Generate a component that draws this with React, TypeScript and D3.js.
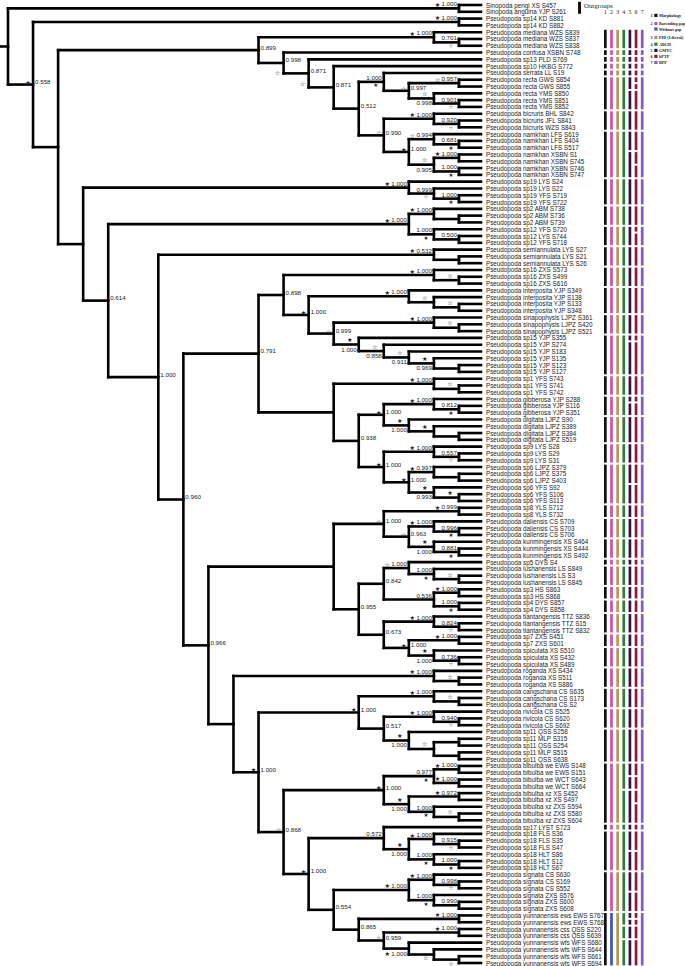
import React from 'react';
import * as d3 from 'd3';

const tipNames: string[] = [
'Sinopoda pengi XS S457','Sinopoda anguina YJP S261',
'Pseudopoda sp14 KD S881','Pseudopoda sp14 KD S882',
'Pseudopoda mediana WZS S839','Pseudopoda mediana WZS S837','Pseudopoda mediana WZS S838',
'Pseudopoda confusa XSBN S748','Pseudopoda sp13 PLD S769','Pseudopoda sp10 HKBG S772','Pseudopoda serrata LL S19',
'Pseudopoda recta GWS S854','Pseudopoda recta GWS S855','Pseudopoda recta YMS S850','Pseudopoda recta YMS S851','Pseudopoda recta YMS S852',
'Pseudopoda bicruris BHL S842','Pseudopoda bicruris JFL S841','Pseudopoda bicruris WZS S843',
'Pseudopoda namkhan LFS S619','Pseudopoda namkhan LFS S404','Pseudopoda namkhan LFS S517','Pseudopoda namkhan XSBN S1','Pseudopoda namkhan XSBN S745','Pseudopoda namkhan XSBN S746','Pseudopoda namkhan XSBN S747',
'Pseudopoda sp19 LYS S24','Pseudopoda sp19 LYS S22','Pseudopoda sp19 YFS S719','Pseudopoda sp19 YFS S722',
'Pseudopoda sp2 ABM S738','Pseudopoda sp2 ABM S736','Pseudopoda sp2 ABM S739',
'Pseudopoda sp12 YFS S720','Pseudopoda sp12 LYS S744','Pseudopoda sp12 YFS S718',
'Pseudopoda semiannulata LYS S27','Pseudopoda semiannulata LYS S21','Pseudopoda semiannulata LYS S26',
'Pseudopoda sp16 ZXS S573','Pseudopoda sp16 ZXS S499','Pseudopoda sp16 ZXS S616',
'Pseudopoda interposita YJP S349','Pseudopoda interposita YJP S138','Pseudopoda interposita YJP S133','Pseudopoda interposita YJP S348',
'Pseudopoda sinapophysis LJPZ S361','Pseudopoda sinapophysis LJPZ S420','Pseudopoda sinapophysis LJPZ S521',
'Pseudopoda sp15 YJP S355','Pseudopoda sp15 YJP S274','Pseudopoda sp15 YJP S183','Pseudopoda sp15 YJP S135','Pseudopoda sp15 YJP S123','Pseudopoda sp15 YJP S127',
'Pseudopoda sp1 YFS S743','Pseudopoda sp1 YFS S741','Pseudopoda sp1 YFS S742',
'Pseudopoda gibberosa YJP S288','Pseudopoda gibberosa YJP S116','Pseudopoda gibberosa YJP S351',
'Pseudopoda digitata LJPZ S90','Pseudopoda digitata LJPZ S389','Pseudopoda digitata LJPZ S384','Pseudopoda digitata LJPZ S519',
'Pseudopoda sp9 LYS S28','Pseudopoda sp9 LYS S29','Pseudopoda sp9 LYS S31',
'Pseudopoda sp6 LJPZ S379','Pseudopoda sp6 LJPZ S375','Pseudopoda sp6 LJPZ S403','Pseudopoda sp6 YFS S92','Pseudopoda sp6 YFS S106','Pseudopoda sp6 YFS S113',
'Pseudopoda sp8 YLS S712','Pseudopoda sp8 YLS S732',
'Pseudopoda daliensis CS S709','Pseudopoda daliensis CS S703','Pseudopoda daliensis CS S706',
'Pseudopoda kunmingensis XS S464','Pseudopoda kunmingensis XS S444','Pseudopoda kunmingensis XS S492',
'Pseudopoda sp5 DYS S4',
'Pseudopoda lushanensis LS S849','Pseudopoda lushanensis LS S3','Pseudopoda lushanensis LS S845',
'Pseudopoda sp3 HS S863','Pseudopoda sp3 HS S868','Pseudopoda sp4 DYS S857','Pseudopoda sp4 DYS S858',
'Pseudopoda tiantangensis TTZ S836','Pseudopoda tiantangensis TTZ S15','Pseudopoda tiantangensis TTZ S832',
'Pseudopoda sp7 ZXS S451','Pseudopoda sp7 ZXS S601',
'Pseudopoda spiculata XS S510','Pseudopoda spiculata XS S432','Pseudopoda spiculata XS S489',
'Pseudopoda roganda XS S434','Pseudopoda roganda XS S511','Pseudopoda roganda XS S886',
'Pseudopoda cangschana CS S635','Pseudopoda cangschana CS S173','Pseudopoda cangschana CS S2',
'Pseudopoda rivicola CS S525','Pseudopoda rivicola CS S620','Pseudopoda rivicola CS S692',
'Pseudopoda sp11 QSS S258','Pseudopoda sp11 MLP S315','Pseudopoda sp11 QSS S254','Pseudopoda sp11 MLP S515','Pseudopoda sp11 QSS S638',
'Pseudopoda bibulba we EWS S148','Pseudopoda bibulba we EWS S151','Pseudopoda bibulba we WCT S643','Pseudopoda bibulba we WCT S664',
'Pseudopoda bibulba xz XS S452','Pseudopoda bibulba xz XS S497','Pseudopoda bibulba xz ZXS S594','Pseudopoda bibulba xz ZXS S580','Pseudopoda bibulba xz ZXS S604',
'Pseudopoda sp17 LYST S723',
'Pseudopoda sp18 FLS S36','Pseudopoda sp18 FLS S35','Pseudopoda sp18 FLS S47','Pseudopoda sp18 HLT S86','Pseudopoda sp18 HLT S12','Pseudopoda sp18 HLT S67',
'Pseudopoda signata CS S630','Pseudopoda signata CS S169','Pseudopoda signata CS S552','Pseudopoda signata ZXS S576','Pseudopoda signata ZXS S600','Pseudopoda signata ZXS S608',
'Pseudopoda yunnanensis ews EWS S767','Pseudopoda yunnanensis ews EWS S768','Pseudopoda yunnanensis css QSS S220','Pseudopoda yunnanensis css QSS S639',
'Pseudopoda yunnanensis wfs WFS S680','Pseudopoda yunnanensis wfs WFS S644','Pseudopoda yunnanensis wfs WFS S661','Pseudopoda yunnanensis wfs WFS S694',
];

// Clades (tips are 1-based indices into tipNames); [style:star:support:level]
const cOut = '(1,2)[A:F:1.000]';
const cSp14 = '(3,4)[A:F:1.000]';
const cMed = '(5,(6,7)[B:O:0.701])[A:F:1.000]';
const cRecta = '((12,13)[A:O:0.957],(14,(15,16)[B:O:0.901])[L:O:0.998])[R:O:0.997]';
const cBic = '(17,(18,19)[B:O:0.920])[A:F:1.000]';
const cNam = '((20,(21,22)[B:F:0.681])[A:O:0.994],((23,24)[A:F:1.000],(25,26)[B:F:1.000])[L:O:0.905])[R:F:1.000]';
const c899 = `(${cMed},(8,(9,(10,((11,${cRecta})[B:F:1.000],(${cBic},${cNam})[R:O:0.990])[R::0.512])[R::0.871])[Q:O:0.871])[Q:O:0.998])[R::0.899]`;
const cSp19 = '(27,(28,(29,30)[B:F:1.000])[B:O:0.999])[A:F:1.000]';
const cSp2Sp12 = '((31,(32,33))[A:F:1.000],(34,(35,36)[B::0.500])[B:F:1.000])[A:F:1.000]';
const cSemi = '(37,(38,39))[A:F:0.532]';
const cSp16 = '(40,(41,42)[S:O:])[A:F:1.000]';
const cInter = '(43,(44,(45,46)[S:O:])[S:O:])[A:F:1.000]';
const cSinap = '(47,(48,49)[S:O:])[A:F:1.000]';
const cSp15 = '(50,(51,(52,(53,(54,55))[L:F:0.969])[L:O:0.911])[L:O:0.858])[L:F:1.000]';
const cSp1 = '(56,(57,58)[S:O:])[A:F:1.000]';
const cGib = '(59,(60,61)[B:F:0.812])[A:F:1.000]';
const cDig = '(62,(63,(64,65))[S:F:])[L:F:1.000]';
const cSp9 = '(66,(67,68)[B:O:0.557])[A:F:1.000]';
const cSp6 = '((69,(70,71))[A:F:0.997],(72,(73,74)[S:F:])[L:F:0.993])[R:F:1.000]';
const c791 = `((${cSp16},(${cInter},(${cSinap},${cSp15})[R:O:0.999])[R:F:1.000])[R::0.898],(${cSp1},((${cGib},${cDig})[R:F:1.000],(${cSp9},${cSp6})[R:F:1.000])[R::0.938]))[R::0.791]`;
const cDalKun = '((75,76)[A:F:0.999],((77,(78,79)[B:F:0.996])[A:F:1.000],(80,(81,82)[B:F:0.881])[L:F:1.000])[R:O:0.963])[R:O:1.000]';
const c842 = '((83,(84,(85,86)[S:O:])[B:F:1.000])[A:O:1.000],((87,88)[A:F:1.000],(89,90)[B:F:1.000])[A::0.536])[R::0.842]';
const c673 = '((91,(92,93)[B:O:0.824])[A:F:1.000],((94,95)[A:F:1.000],(96,(97,98)[B:O:0.736])[L:F:1.000])[R:F:1.000])[R::0.673]';
const cRog = '(99,(100,101)[S:O:])[A:F:1.000]';
const cCang = '((102,(103,104)[S:O:])[A:F:1.000],((105,(106,107)[B:O:0.940])[A:F:1.000],(108,((109,110),(111,112))[S:O:])[L:F:1.000])[R::0.517])[R:F:1.000]';
const cBib = '(((113,114)[A:F:1.000],(115,116)[A:F:1.000])[B:F:0.977],((117,118)[A:F:0.972],(119,(120,121)[S:O:])[B:F:1.000])[L:F:1.000])[R:F:1.000]';
const cSp18 = '(122,((123,(124,125)[B:O:0.915])[A:F:1.000],(126,(127,128)[B:F:1.000])[B:F:1.000])[L:F:1.000])[A::0.572]';
const cSig = '((129,(130,131)[B:O:0.998])[A:F:1.000],(132,(133,134)[A::0.990])[B:F:1.000])[A:F:1.000]';
const cYun = '((135,136)[A:F:1.000],((137,138)[A:F:1.000],(139,(140,(141,142)[T:O:])[T:O:])[M:F:1.000])[R:O:0.959])[R::0.865]';
const c966 = `((${cDalKun},(${c842},${c673})[R::0.955]),(${cRog},(${cCang},(${cBib},(${cSp18},(${cSig},${cYun})[R::0.554])[R:F:1.000])[R:O:0.868])[R:F:1.000]))[R::0.966]`;
const cMain = `(${cSemi},(${c791},${c966})[R::0.960])[R::1.000]`;
const treeSource = `(${cOut},(${cSp14},(${c899},(${cSp19},(${cSp2Sp12},${cMain})[R::0.614:15])[N:::16])[N:::17])[R:F:0.558:18])[N:::19]`;

// Delimitation bars
const methodNames = ['Morphology', 'Barcoding gap', 'PID (Liberal)', 'ABGD', 'GMYC', 'bPTP', 'BPP'];
const methodColors = ['#111111', '#d04fa8', '#b39a52', '#2e7b3c', '#3a1148', '#8c1c2e', '#8757c9'];
const withoutGapColor = '#3d55b5';
const withoutGapGroups = [135];
const speciesGroups: [number, number][] = [
  [5,7],[8,8],[9,9],[10,10],[11,11],[12,16],[17,19],[20,26],[27,30],[31,33],[34,36],[37,39],[40,42],[43,46],[47,49],
  [50,55],[56,58],[59,61],[62,65],[66,68],[69,74],[75,76],[77,79],[80,82],[83,83],[84,86],[87,88],[89,90],[91,93],
  [94,95],[96,98],[99,101],[102,104],[105,107],[108,112],[113,121],[122,122],[123,128],[129,134],[135,142],
];
// [column (1-based), segments replacing the group that starts at the first segment]
const columnSplits: [number, [number, number][]][] = [
  [5, [[12,13],[14,16]]], [6, [[12,12],[13,13],[14,16]]],
  [5, [[20,22],[23,26]]], [6, [[20,22],[23,24],[25,26]]],
  [6, [[34,34],[35,36]]],
  [5, [[50,50],[51,55]]], [6, [[50,50],[51,55]]],
  [5, [[59,59],[60,61]]], [6, [[59,59],[60,61]]],
  [5, [[69,71],[72,74]]], [6, [[69,71],[72,74]]],
  [4, [[113,116],[117,121]]], [5, [[113,114],[115,116],[117,121]]], [6, [[113,114],[115,116],[117,118],[119,121]]],
  [5, [[123,125],[126,128]]], [6, [[123,125],[126,128]]],
  [5, [[129,131],[132,134]]], [6, [[129,131],[132,134]]],
  [4, [[135,136],[137,138],[139,142]]], [5, [[135,135],[136,136],[137,138],[139,142]]], [6, [[135,135],[136,136],[137,138],[139,142]]],
];
const legendItems: [string, string, string][] = [
  ['1', 'Morphology', '#111111'], ['2', 'Barcoding gap', '#d04fa8'], ['', 'Without gap', '#3d55b5'],
  ['3', 'PID (Liberal)', '#b39a52'], ['4', 'ABGD', '#2e7b3c'], ['5', 'GMYC', '#3a1148'],
  ['6', 'bPTP', '#8c1c2e'], ['7', 'BPP', '#8757c9'],
];
const legendY = [15.4, 23.6, 29, 37.5, 44.2, 50.4, 56.4, 62.5];

type TNode = { tip?: number; children?: TNode[]; ann?: string; h: number; y: number };

function parseTree(src: string): TNode {
  const s = src.replace(/\s+/g, '');
  let i = 0;
  function node(): TNode {
    if (s[i] === '(') {
      i++;
      const children = [node()];
      while (s[i] === ',') { i++; children.push(node()); }
      i++;
      let ann: string | undefined;
      if (s[i] === '[') { const j = s.indexOf(']', i); ann = s.slice(i + 1, j); i = j + 1; }
      return { children, ann, h: 0, y: 0 };
    }
    let j = i;
    while (j < s.length && /[0-9]/.test(s[j])) j++;
    const tip = +s.slice(i, j);
    i = j;
    return { tip, h: 0, y: 0 };
  }
  return node();
}

const W = 685, H = 966;
const yScale = d3.scaleLinear().domain([1, tipNames.length]).range([5, 963]);
const xScale = d3.scaleLinear().domain([0, 19]).range([484, 8]);

function layout(n: TNode) {
  if (n.children) {
    n.children.forEach(layout);
    n.h = 1 + (d3.max(n.children, (c) => c.h) as number);
    const parts = (n.ann || '').split(':');
    if (parts[3]) n.h = +parts[3];
    n.y = (n.children[0].y + n.children[n.children.length - 1].y) / 2;
  } else {
    n.h = 0;
    n.y = yScale(n.tip as number);
  }
}

export default function App() {
  const root = parseTree(treeSource);
  layout(root);
  const tipX = xScale(0) - 3;
  const lines: [number, number, number, number][] = [];
  const texts: React.ReactElement[] = [];
  const fs = 6.2;
  const starEl = (cx: number, cy: number, t: string, k: string, size = 6.2) => (
    <text key={k} x={cx} y={cy} fontSize={size} fontFamily="DejaVu Sans" textAnchor="middle" dominantBaseline="central" fill="#222">{t === 'F' ? '★' : '☆'}</text>
  );
  let key = 0;
  const nx = (n: TNode) => (n.tip ? tipX : xScale(n.h));
  function walk(n: TNode) {
    if (!n.children) return;
    const x = nx(n);
    const c0 = n.children[0], c1 = n.children[n.children.length - 1];
    lines.push([x, c0.y, x, c1.y]);
    n.children.forEach((c) => { lines.push([x, c.y, nx(c), c.y]); walk(c); });
    if (n.ann) {
      const [code, star, txt] = n.ann.split(':');
      const k = 'l' + key++;
      const tw = (txt || '').length * 0.5 * fs;
      const T = (tx: number, ty: number, anchor: string) => (
        <text key={k + 't'} x={tx} y={ty} fontSize={fs} fontFamily="Liberation Sans, Arial, sans-serif" textAnchor={anchor} fill="#222">{txt}</text>
      );
      if (code === 'A') {
        if (txt) texts.push(T(x - 2, n.y - 2, 'end'));
        if (star) texts.push(starEl(x - 2 - tw - 4, n.y - 4, star, k + 's'));
      } else if (code === 'B') {
        if (txt) texts.push(T(x - 2, n.y - 2, 'end'));
        if (star) texts.push(starEl(x - 8, n.y + 3.6, star, k + 's', 5.6));
      } else if (code === 'R') {
        if (txt) texts.push(T(x + 2, n.y - 0.5, 'start'));
        if (star) texts.push(starEl(x - 5, n.y - 2.5, star, k + 's'));
      } else if (code === 'Q') {
        if (txt) texts.push(T(x + 2, n.y - 0.5, 'start'));
        if (star) texts.push(starEl(x - 6, n.y + 10, star, k + 's'));
      } else if (code === 'L') {
        if (txt) texts.push(T(x - 2, n.y + 7, 'end'));
        if (star) texts.push(starEl(x - 9, n.y - 5, star, k + 's'));
      } else if (code === 'M') {
        if (txt) texts.push(T(x - 2, n.y + 7, 'end'));
        if (star) texts.push(starEl(x - 2 - tw - 4, n.y + 5, star, k + 's'));
      } else if (code === 'S') {
        if (star) texts.push(starEl(x - 9, n.y - 5, star, k + 's'));
      } else if (code === 'T') {
        if (star) texts.push(starEl(x - 8, n.y + 3.4, star, k + 's'));
      }
    }
  }
  walk(root);
  lines.push([0, root.y, xScale(root.h), root.y]);

  // bars
  const colX = (c: number) => 604 + (c - 1) * 6.14;
  const bars: React.ReactElement[] = [];
  for (let c = 1; c <= 7; c++) {
    speciesGroups.forEach(([a, b]) => {
      const split = columnSplits.find(([col, segs]) => col === c && segs[0][0] === a);
      const segs = split ? split[1] : [[a, b] as [number, number]];
      const color = c === 2 && withoutGapGroups.includes(a) ? withoutGapColor : methodColors[c - 1];
      segs.forEach(([s0, s1]) => {
        const y0 = yScale(s0) - 2.4, y1 = yScale(s1) + 2.4;
        bars.push(<rect key={`b${c}-${s0}`} x={colX(c)} y={y0} width={2.7} height={y1 - y0} fill={color} />);
      });
    });
  }

  return (
    <div style={{ position: 'absolute', left: 0, top: 0 }}>
      <svg width={W} height={H} viewBox={`0 0 ${W} ${H}`} style={{ display: 'block', background: '#fff' }}>
        <g stroke="#000" strokeWidth={2.6} strokeLinecap="square" fill="none">
          {lines.map((l, i) => <line key={i} x1={l[0]} y1={l[1]} x2={l[2]} y2={l[3]} />)}
        </g>
        {texts}
        <g fontSize={6.3} fontFamily="Liberation Sans, Arial, sans-serif" fill="#222">
          {tipNames.map((t, i) => (
            <text key={t + i} x={486} y={yScale(i + 1)} dominantBaseline="central">{t}</text>
          ))}
        </g>
        {bars}
        <rect x={578} y={1.8} width={3} height={12} fill="#111" />
        <text x={584} y={5} fontSize={6.8} fontFamily="Liberation Serif, serif" dominantBaseline="central" fill="#222">Outgroups</text>
        {methodNames.map((m, i) => (
          <text key={m} x={colX(i + 1) + 1.35} y={14} fontSize={6} fontFamily="Liberation Serif, serif" textAnchor="middle" fill="#222">{i + 1}</text>
        ))}
        {legendItems.map(([num, name, col], i) => {
          const ly = legendY[i];
          return (
            <g key={name} fontFamily="Liberation Serif, serif" fontWeight="bold" fontSize={4.2} fill="#222">
              <text x={650.5} y={ly} dominantBaseline="central">{num}</text>
              <rect x={654.3} y={ly - 1.6} width={3.2} height={3.2} fill={col} />
              <text x={659} y={ly} dominantBaseline="central">{name}</text>
            </g>
          );
        })}
      </svg>
    </div>
  );
}
